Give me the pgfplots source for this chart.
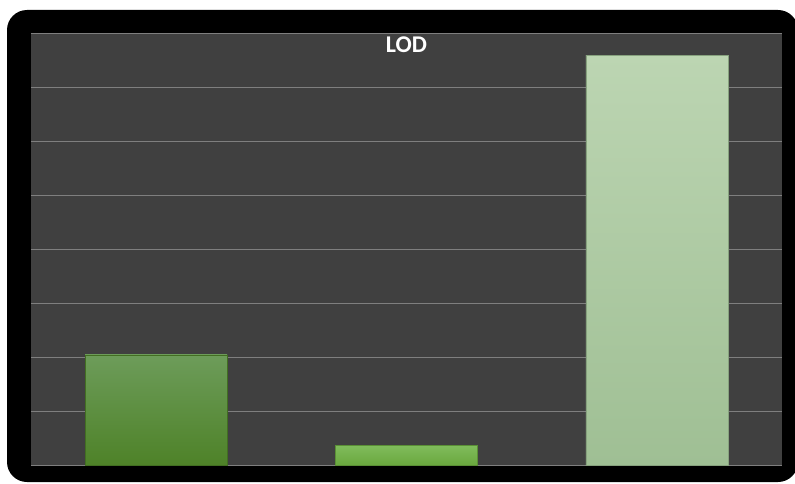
\documentclass[border=0pt]{standalone}
\usepackage{pgfplots}
\pgfplotsset{compat=1.18}
\usepackage{fontspec}
\setmainfont{Carlito}
\definecolor{plotbg}{HTML}{404040}
\definecolor{gridc}{HTML}{7F7F7F}
\definecolor{gAt}{HTML}{6D9C5A}
\definecolor{gAb}{HTML}{4E8228}
\definecolor{gBt}{HTML}{80BC5C}
\definecolor{gBb}{HTML}{6AA83E}
\definecolor{gCt}{HTML}{BCD5B2}
\definecolor{gCb}{HTML}{9FBF94}
\begin{document}
\begin{tikzpicture}[x=1pt,y=1pt]
\clip (0,0) rectangle (795,483);
\fill[white] (0,0) rectangle (795,483);
\fill[black, rounded corners=20pt] (7,1) rectangle (798,473);
\begin{axis}[
  at={(31pt,18pt)}, anchor=south west,
  scale only axis, width=751pt, height=432pt,
  xmin=-0.5, xmax=2.5, ymin=0, ymax=8,
  axis background/.style={fill=plotbg},
  axis line style={draw=none},
  tick style={draw=none},
  xtick=\empty,
  ytick={0,1,...,8}, yticklabels={},
  ymajorgrids, grid style={gridc, line width=0.9pt},
  ybar, bar width=0.567, bar shift=0pt,
  title={LOD},
  title style={at={(axis description cs:0.5,1)}, anchor=base, yshift=-25pt,
    font=\fontsize{24}{28}\selectfont\bfseries, text=white, inner sep=0pt},
]
\addplot[draw=gAb!85!black, line width=0.6pt, top color=gAt, bottom color=gAb] coordinates {(0,2.04)};
\addplot[draw=gBb!85!black, line width=0.6pt, top color=gBt, bottom color=gBb] coordinates {(1,0.365)};
\addplot[draw=gCb!85!black, line width=0.6pt, top color=gCt, bottom color=gCb] coordinates {(2,7.58)};
\end{axis}
\end{tikzpicture}
\end{document}
